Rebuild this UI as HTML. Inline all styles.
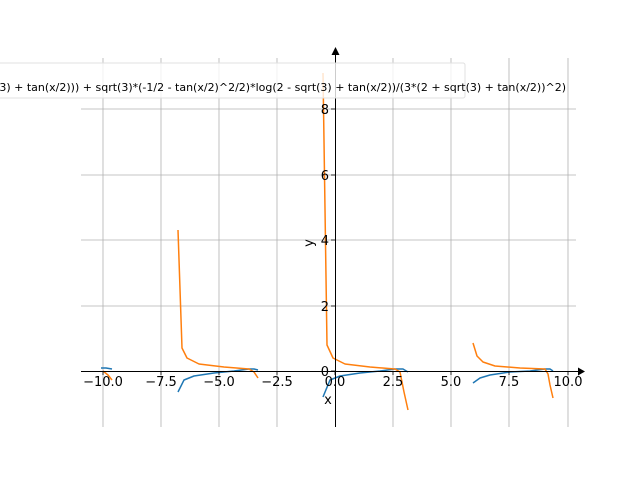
<!DOCTYPE html>
<html><head><meta charset="utf-8"><style>
html,body{margin:0;padding:0;background:#fff;}
svg{display:block;font-family:"DejaVu Sans","Liberation Sans",sans-serif;}
</style></head><body>
<svg width="640" height="480" viewBox="0 0 640 480" xmlns="http://www.w3.org/2000/svg">
<g stroke="#b0b0b0" stroke-width="0.8">
<line x1="103" y1="58" x2="103" y2="427"/><line x1="161" y1="58" x2="161" y2="427"/>
<line x1="219" y1="58" x2="219" y2="427"/><line x1="277" y1="58" x2="277" y2="427"/>
<line x1="393" y1="58" x2="393" y2="427"/><line x1="451" y1="58" x2="451" y2="427"/>
<line x1="509" y1="58" x2="509" y2="427"/><line x1="568" y1="58" x2="568" y2="427"/>
<line x1="81" y1="109" x2="576" y2="109"/><line x1="81" y1="175" x2="576" y2="175"/>
<line x1="81" y1="240" x2="576" y2="240"/><line x1="81" y1="306" x2="576" y2="306"/>
</g>
<g fill="none" stroke-width="1.5" stroke-linejoin="round">
<path stroke="#1f77b4" d="M101,368 L106,368 L112,369"/>
<path stroke="#ff7f0e" d="M103,371 L108,375 L112,380"/>
<path stroke="#1f77b4" d="M178,392 L184,380 L194,376 L214,373 L234,371 L249,369 L254,369 L258,370"/>
<path stroke="#ff7f0e" d="M178,230 L182,348 L187,358 L199,364 L224,367 L249,369 L254,372 L258,378"/>
<path stroke="#1f77b4" d="M323,397 L330,380 L340,376 L360,373 L380,371 L395,369 L403,369 L408,372"/>
<path stroke="#ff7f0e" d="M323,73 L327,345 L333,358 L345,364 L370,367 L395,369 L400,372 L404,392 L408,410"/>
<path stroke="#1f77b4" d="M473,383 L480,378 L490,375 L510,372 L530,371 L545,369 L550,369 L553,371"/>
<path stroke="#ff7f0e" d="M473,343 L477,356 L483,362 L495,366 L520,368 L545,369 L548,374 L550,385 L553,398"/>
</g>
<g stroke="#000" stroke-width="1">
<line x1="81" y1="371.5" x2="580" y2="371.5"/>
<line x1="335.5" y1="427" x2="335.5" y2="52"/>
</g>
<path d="M585,371.5 L578,367.5 L578,375.5 Z" fill="#000"/>
<path d="M335.5,47 L331.5,55 L339.5,55 Z" fill="#000"/>
<g stroke="#000" stroke-width="0.8">
<line x1="103" y1="371" x2="103" y2="375"/><line x1="161" y1="371" x2="161" y2="375"/>
<line x1="219" y1="371" x2="219" y2="375"/><line x1="277" y1="371" x2="277" y2="375"/>
<line x1="335" y1="371" x2="335" y2="375"/><line x1="393" y1="371" x2="393" y2="375"/>
<line x1="451" y1="371" x2="451" y2="375"/><line x1="509" y1="371" x2="509" y2="375"/>
<line x1="568" y1="371" x2="568" y2="375"/>
<line x1="331" y1="109" x2="335" y2="109"/><line x1="331" y1="175" x2="335" y2="175"/>
<line x1="331" y1="240" x2="335" y2="240"/><line x1="331" y1="306" x2="335" y2="306"/>
<line x1="331" y1="371" x2="335" y2="371"/>
</g>
<g font-size="13" fill="#000" text-anchor="middle">
<text x="103" y="386">−10.0</text><text x="161" y="386">−7.5</text>
<text x="219" y="386">−5.0</text><text x="277" y="386">−2.5</text>
<text x="335" y="386">0.0</text><text x="393" y="386">2.5</text>
<text x="451" y="386">5.0</text><text x="509" y="386">7.5</text>
<text x="568" y="386">10.0</text>
</g>
<g font-size="13" fill="#000" text-anchor="end">
<text x="329" y="114">8</text><text x="329" y="180">6</text>
<text x="329" y="245">4</text><text x="329" y="311">2</text>
<text x="329" y="376">0</text>
</g>
<text x="328" y="404" font-size="13" text-anchor="middle">x</text>
<text x="313" y="243" font-size="13" text-anchor="middle" transform="rotate(-90 313 243)">y</text>
<rect x="-5" y="63" width="470" height="35" fill="#fff" fill-opacity="0.8" stroke="#e0e0e0" stroke-width="1" rx="2"/>
<text x="566" y="91" font-size="11" text-anchor="end" fill="#000">-(2*sqrt(3)*log(2 + sqrt(3) + tan(x/2))*(1/2 + tan(x/2)^2/2) + 2*(1 + tan(x/2)^2)/(2 - sqrt(3) + tan(x/2)) - 2*(1 + tan(x/2)^2)/(2 + sqrt(3) + tan(x/2))) + sqrt(3)*(-1/2 - tan(x/2)^2/2)*log(2 - sqrt(3) + tan(x/2))/(3*(2 + sqrt(3) + tan(x/2))^2)</text>
</svg>
</body></html>
